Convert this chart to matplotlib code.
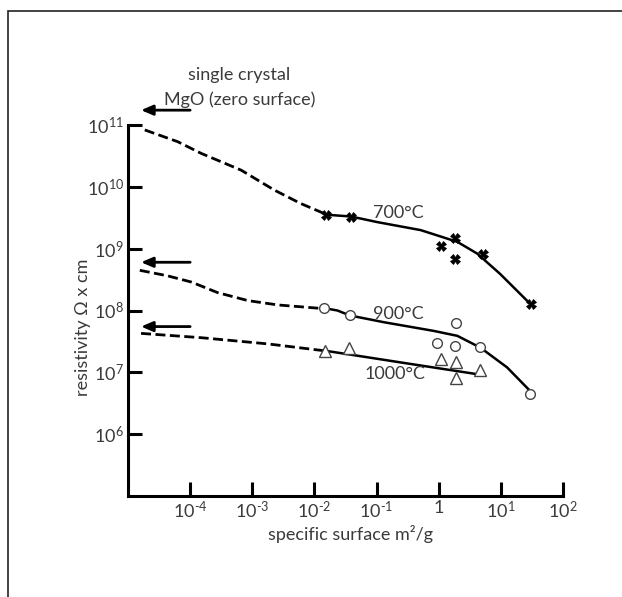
import numpy as np
import matplotlib
matplotlib.use("Agg")
import matplotlib.pyplot as plt
from matplotlib.patches import Rectangle

plt.rcParams['font.family'] = ['Lato', 'DejaVu Sans']
plt.rcParams['mathtext.fontset'] = 'custom'
plt.rcParams['mathtext.rm'] = 'Lato'
plt.rcParams['mathtext.it'] = 'Lato:italic'

TXT = '#3a3a3a'

# measured points (log10 of specific surface, log10 of resistivity)
pts700_x = [-1.82, -1.41, 0.03, 0.27, 0.27, 0.71, 1.48]
pts700_y = [9.55, 9.52, 9.04, 9.18, 8.83, 8.91, 8.11]
pts900_x = [-1.85, -1.43, 0.28, -0.02, 0.27, 0.67, 1.47]
pts900_y = [8.04, 7.92, 7.80, 7.47, 7.43, 7.41, 6.65]
pts1000_x = [-1.83, -1.44, 0.04, 0.28, 0.28, 0.67]
pts1000_y = [7.34, 7.39, 7.21, 7.16, 6.91, 7.03]

# hand-drawn curves, dashed (extrapolated) and solid parts
dash700_x = [-4.73, -4.20, -3.82, -3.18, -2.65, -2.22, -1.80]
dash700_y = [10.92, 10.73, 10.54, 10.27, 9.95, 9.73, 9.55]
sol700_x = [-1.82, -1.41, -0.99, -0.29, 0.30, 0.62, 0.99, 1.47]
sol700_y = [9.55, 9.52, 9.43, 9.30, 9.11, 8.92, 8.59, 8.11]

dash900_x = [-4.81, -4.36, -3.98, -3.56, -3.07, -2.59, -1.85]
dash900_y = [8.65, 8.56, 8.46, 8.29, 8.16, 8.09, 8.03]
sol900_x = [-1.85, -1.63, -1.43, -0.88, -0.08, 0.30, 0.67, 1.10, 1.47]
sol900_y = [8.04, 8.00, 7.92, 7.81, 7.67, 7.59, 7.40, 7.08, 6.70]

dash1000_x = [-4.79, -3.82, -2.75, -1.85]
dash1000_y = [7.63, 7.56, 7.46, 7.35]
sol1000_x = [-1.83, -0.61, 0.62]
sol1000_y = [7.35, 7.16, 6.97]

# single crystal reference arrows (log10 resistivity)
arrow_y = [11.24, 8.78, 7.74]

xticks = [-4, -3, -2, -1, 0, 1, 2]
xticklabels = ['$10^{\\text{-}4}$', '$10^{\\text{-}3}$', '$10^{\\text{-}2}$',
               '$10^{\\text{-}1}$', '1', '$10^{1}$', '$10^{2}$']
yticks = [6, 7, 8, 9, 10, 11]
yticklabels = ['$10^{%d}$' % t for t in yticks]


def p(v):
    return 10.0 ** np.array(v, dtype=float)


fig = plt.figure(figsize=(6.22, 5.97), dpi=100)
fig.patches.append(Rectangle((8 / 622, -0.1), 1.2, 1 - 11 / 597 + 0.1,
                             transform=fig.transFigure, fill=False,
                             edgecolor='#222222', lw=1.2))
ax = fig.add_axes([128 / 622, 101 / 597, 435 / 622, 371 / 597])
ax.set_xscale('log')
ax.set_yscale('log')
ax.set_xlim(1e-5, 1e2)
ax.set_ylim(1e5, 1e11)

dash = dict(color='black', lw=2, linestyle=(0, (3.6, 1.6)))
solid = dict(color='black', lw=1.8)
for dx, dy, sx, sy in [(dash700_x, dash700_y, sol700_x, sol700_y),
                       (dash900_x, dash900_y, sol900_x, sol900_y),
                       (dash1000_x, dash1000_y, sol1000_x, sol1000_y)]:
    ax.plot(p(dx), p(dy), **dash)
    ax.plot(p(sx), p(sy), **solid)

ax.plot(p(pts700_x), p(pts700_y), 'X', color='black', ms=7, mew=0.5, ls='none')
ax.plot(p(pts900_x), p(pts900_y), 'o', mfc='white', mec='#444444', ms=7, mew=1, ls='none')
ax.plot(p(pts1000_x), p(pts1000_y), '^', mfc='white', mec='#444444', ms=8, mew=1, ls='none')

for ay in arrow_y:
    ax.annotate('', xy=(10 ** -4.79, 10 ** ay), xytext=(1e-4, 10 ** ay),
                arrowprops=dict(arrowstyle='-|>,head_length=0.7,head_width=0.3',
                                lw=2, color='black', shrinkA=0, shrinkB=0),
                annotation_clip=False)

FS = 13
ax.text(10 ** -3.21, 10 ** 11.81, 'single crystal', ha='center', va='center', fontsize=FS, color=TXT)
ax.text(10 ** -3.21, 10 ** 11.41, 'MgO (zero surface)', ha='center', va='center', fontsize=FS, color=TXT)
ax.text(10 ** -0.65, 10 ** 9.57, '700°C', ha='center', va='center', fontsize=FS, color=TXT)
ax.text(10 ** -0.65, 10 ** 7.95, '900°C', ha='center', va='center', fontsize=FS, color=TXT)
ax.text(10 ** -0.70, 10 ** 6.97, '1000°C', ha='center', va='center', fontsize=FS, color=TXT)

for s in ['top', 'right']:
    ax.spines[s].set_visible(False)
for s in ['left', 'bottom']:
    ax.spines[s].set_linewidth(2.2)
ax.set_xticks(p(xticks))
ax.set_xticklabels(xticklabels)
ax.set_yticks(p(yticks))
ax.set_yticklabels(yticklabels)
ax.minorticks_off()
ax.tick_params(direction='in', length=10, width=2.2, labelsize=FS, labelcolor=TXT, pad=3)

ax.set_xlabel('specific surface m²/g', fontsize=FS, color=TXT)
ax.set_ylabel('resistivity Ω x cm', fontsize=FS, color=TXT)
ax.xaxis.set_label_coords(222 / 435, -29 / 371)
ax.yaxis.set_label_coords(-37 / 435, 169 / 371)

fig.savefig('out.png', dpi=100)
